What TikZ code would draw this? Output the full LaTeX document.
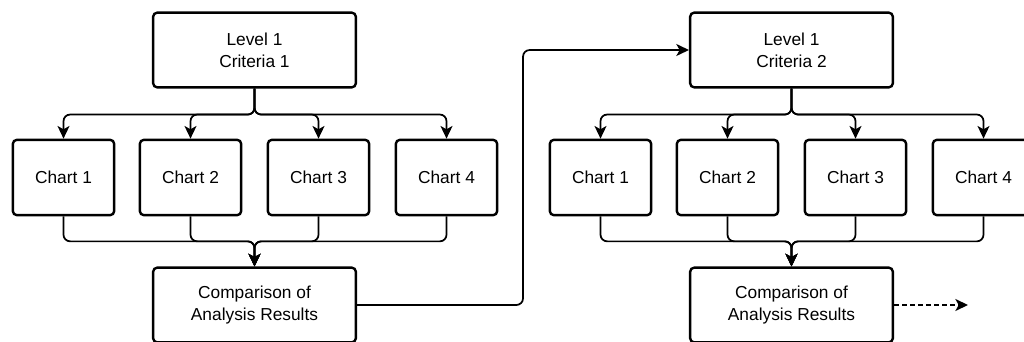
\documentclass[tikz,border=0pt]{standalone}
\usepackage{fontspec}
\setmainfont{Liberation Sans}
\usetikzlibrary{arrows.meta}

\tikzset{
  box/.style={draw, line width=1.8pt, rounded corners=3pt, align=center, inner sep=0pt,
    font=\fontsize{13}{16.5}\selectfont},
  critbox/.style={box, minimum width=152pt, minimum height=56pt},
  chartbox/.style={box, minimum width=76pt, minimum height=56.5pt},
  conn/.style={line width=1.3pt, rounded corners=5pt,
    -{Stealth[length=9.5pt,width=9pt,inset=2.5pt]}},
  nextlink/.style={conn, dash pattern=on 3.5pt off 2.5pt},
}

\begin{document}
\begin{tikzpicture}[x=0.75pt, y=-0.75pt]
  \clip (0,0) rectangle (1024,342);

  % two rounds: criteria, four charts, comparison
  \foreach \g/\dx in {1/0, 2/537} {
    \node[critbox] (crit\g) at (254.5+\dx, 50) {Level 1\\Criteria \g};
    \node[critbox] (cmp\g) at (254.5+\dx, 305) {Comparison of\\Analysis Results};
    \foreach \i/\cx in {1/63.5, 2/190.5, 3/318.5, 4/446.5} {
      \node[chartbox] (ch\g\i) at (\cx+\dx, 177.5) {Chart \i};
      \draw[conn] (crit\g.south) -- ++(0,26) -| (ch\g\i.north);
      \draw[conn] (ch\g\i.south) -- ++(0,25) -| (cmp\g.north);
    }
  }

  % on to the next criteria
  \draw[conn] (cmp1.east) -- ++(166,0) |- (crit2.west);
  \coordinate (next) at (968,305);
  \draw[nextlink] (cmp2.east) -- (next);
\end{tikzpicture}
\end{document}
